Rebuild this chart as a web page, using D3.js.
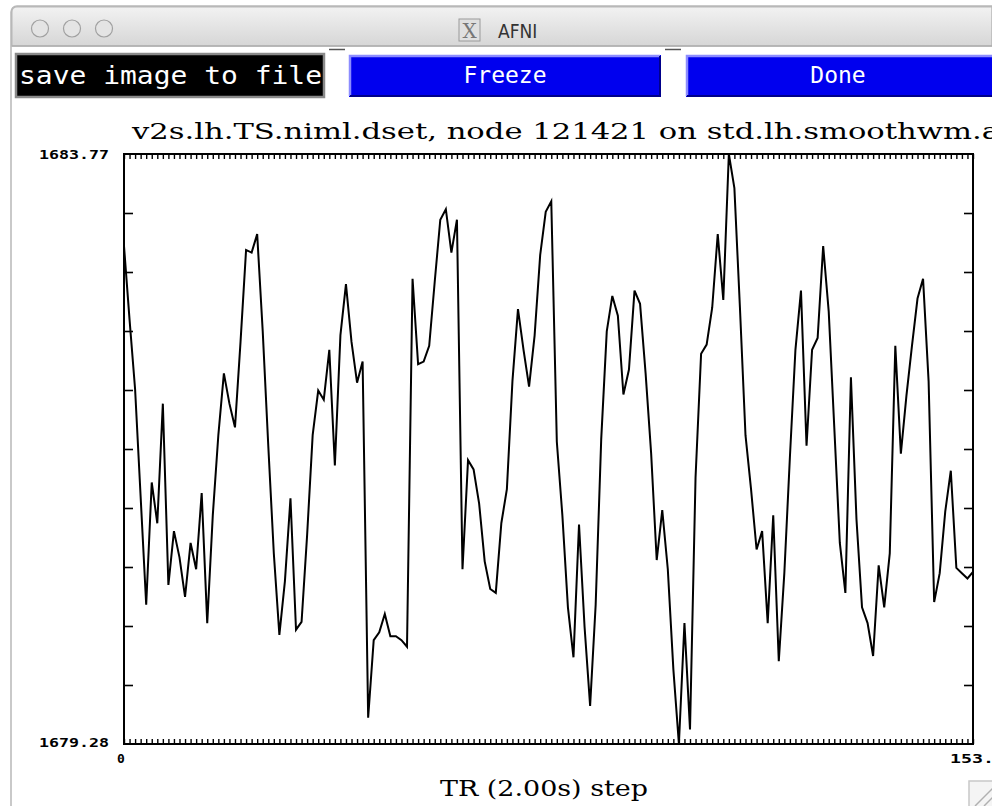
<!DOCTYPE html>
<html>
<head>
<meta charset="utf-8">
<script src="https://cdn.jsdelivr.net/npm/d3@7"></script>
<style>
  html, body { margin: 0; padding: 0; background: #ffffff; }
  svg { display: block; }
</style>
</head>
<body>
<svg id="chart" width="992" height="806"></svg>
<script>
// ---- data ----
const windowTitle = "AFNI";
const buttonLabels = ["save image to file", "Freeze", "Done"];
const plotTitle = "v2s.lh.TS.niml.dset, node 121421 on std.lh.smoothwm.a";
const xAxisTitle = "TR (2.00s) step";
const yTickLabels = ["1683.77", "1679.28"];
const xTickLabels = ["0", "153."];
const yRange = [1679.28, 1683.77];
const xRange = [0, 153];

const values = [
  1683.07, 1682.51, 1681.98, 1681.16, 1680.34, 1681.27, 1680.96, 1681.87, 1680.49, 1680.90,
  1680.70, 1680.40, 1680.81, 1680.61, 1681.19, 1680.20, 1681.02, 1681.63, 1682.10, 1681.87,
  1681.69, 1682.34, 1683.04, 1683.02, 1683.16, 1682.42, 1681.55, 1680.73, 1680.11, 1680.52,
  1681.15, 1680.15, 1680.21, 1680.87, 1681.63, 1681.97, 1681.90, 1682.28, 1681.40, 1682.39,
  1682.78, 1682.34, 1682.03, 1682.19, 1679.48, 1680.07, 1680.13, 1680.27, 1680.10, 1680.10,
  1680.07, 1680.02, 1682.82, 1682.17, 1682.19, 1682.31, 1682.80, 1683.27, 1683.35, 1683.02,
  1683.27, 1680.61, 1681.44, 1681.37, 1681.11, 1680.67, 1680.46, 1680.43, 1680.96, 1681.22,
  1682.04, 1682.59, 1682.28, 1682.00, 1682.39, 1683.00, 1683.33, 1683.41, 1681.58, 1681.02,
  1680.32, 1679.94, 1680.95, 1680.17, 1679.57, 1680.34, 1681.60, 1682.42, 1682.69, 1682.54,
  1681.94, 1682.13, 1682.73, 1682.63, 1682.10, 1681.49, 1680.68, 1681.06, 1680.61, 1679.85,
  1679.28, 1680.20, 1679.39, 1681.31, 1682.25, 1682.32, 1682.60, 1683.16, 1682.66, 1683.77,
  1683.51, 1682.60, 1681.63, 1681.22, 1680.76, 1680.90, 1680.20, 1681.02, 1679.91, 1680.58,
  1681.46, 1682.28, 1682.73, 1681.55, 1682.28, 1682.37, 1683.07, 1682.57, 1681.69, 1680.81,
  1680.43, 1682.07, 1680.99, 1680.32, 1680.20, 1679.95, 1680.64, 1680.32, 1680.73, 1682.31,
  1681.49, 1681.93, 1682.31, 1682.67, 1682.82, 1682.04, 1680.36, 1680.58, 1681.05, 1681.36,
  1680.62, 1680.58, 1680.54, 1680.59
];

// ---- drawing ----
const svg = d3.select("#chart");

// window chrome
const defs = svg.append("defs");
const grad = defs.append("linearGradient").attr("id", "tbar").attr("x1", 0).attr("y1", 0).attr("x2", 0).attr("y2", 1);
grad.append("stop").attr("offset", "0%").attr("stop-color", "#f2f2f2");
grad.append("stop").attr("offset", "100%").attr("stop-color", "#d6d6d6");

svg.append("rect").attr("x", 11).attr("y", 6).attr("width", 990).attr("height", 820)
  .attr("rx", 6).attr("fill", "#ffffff").attr("stroke", "#b8b8b8").attr("stroke-width", 1.5);
svg.append("path")
  .attr("d", "M11.75,46 L11.75,12 Q11.75,6.75 17,6.75 L992,6.75 L992,46 Z")
  .attr("fill", "url(#tbar)").attr("stroke", "#b8b8b8").attr("stroke-width", 1.5);
svg.append("line").attr("x1", 12).attr("x2", 992).attr("y1", 46).attr("y2", 46)
  .attr("stroke", "#a8a8a8").attr("stroke-width", 1);

[40, 72, 104].forEach(cx => {
  svg.append("circle").attr("cx", cx).attr("cy", 28.5).attr("r", 8.5)
    .attr("fill", "#e4e4e4").attr("stroke", "#a0a0a0").attr("stroke-width", 1.2);
});
// X icon
svg.append("rect").attr("x", 459).attr("y", 19).attr("width", 21).attr("height", 22)
  .attr("fill", "#e0e0e0").attr("stroke", "#9a9a9a").attr("stroke-width", 1);
svg.append("text").attr("x", 469.5).attr("y", 38).attr("text-anchor", "middle")
  .attr("font-family", "DejaVu Serif").attr("font-size", 20).attr("fill", "#777")
  .text("X");
svg.append("text").attr("x", 498).attr("y", 38)
  .attr("font-family", "DejaVu Sans Condensed, DejaVu Sans").attr("font-size", 19).attr("fill", "#333")
  .text(windowTitle);

// button row
svg.append("rect").attr("x", 13).attr("y", 47).attr("width", 979).attr("height", 55).attr("fill", "#ffffff");
svg.append("line").attr("x1", 329).attr("x2", 345).attr("y1", 49.5).attr("y2", 49.5).attr("stroke", "#555").attr("stroke-width", 1.5);
svg.append("line").attr("x1", 665).attr("x2", 681).attr("y1", 49.5).attr("y2", 49.5).attr("stroke", "#555").attr("stroke-width", 1.5);

svg.append("rect").attr("x", 16).attr("y", 54).attr("width", 308).attr("height", 43)
  .attr("fill", "#000").attr("stroke", "#8a8a8a").attr("stroke-width", 2.5);
svg.append("text").attr("x", 19).attr("y", 84)
  .attr("font-family", "DejaVu Sans Mono").attr("font-size", 24).attr("fill", "#fff")
  .attr("textLength", 303).attr("lengthAdjust", "spacingAndGlyphs")
  .text(buttonLabels[0]);

const blueBtns = [{x: 349, w: 312, label: buttonLabels[1]}, {x: 686, w: 312, label: buttonLabels[2]}];
blueBtns.forEach(b => {
  svg.append("rect").attr("x", b.x).attr("y", 55).attr("width", b.w).attr("height", 42).attr("fill", "#0000ee");
  svg.append("path").attr("d", `M${b.x+1},${96} L${b.x+1},${56} L${b.x+b.w-1},${56}`)
    .attr("fill", "none").attr("stroke", "#8c8cff").attr("stroke-width", 2.5);
  svg.append("path").attr("d", `M${b.x+1},${96} L${b.x+b.w-1},${96} L${b.x+b.w-1},${56}`)
    .attr("fill", "none").attr("stroke", "#00008a").attr("stroke-width", 2);
  svg.append("text").attr("x", b.x + b.w / 2 - (b.label === "Done" ? 4 : 0)).attr("y", 83)
    .attr("text-anchor", "middle")
    .attr("font-family", "DejaVu Sans Mono").attr("font-size", 23).attr("fill", "#fff")
    .text(b.label);
});

// ---- plot ----
const x = d3.scaleLinear().domain(xRange).range([124, 973]);
const y = d3.scaleLinear().domain(yRange).range([744, 154]);

const font = "DejaVu Serif, Liberation Serif, serif";

svg.append("text").attr("x", 132).attr("y", 139)
  .attr("font-family", font).attr("font-size", 23).attr("fill", "#000")
  .attr("textLength", 868).attr("lengthAdjust", "spacingAndGlyphs")
  .text(plotTitle);

// ticks
const xt = d3.range(xRange[0], xRange[1] + 1);
svg.append("g").attr("transform", `translate(0,${y(yRange[0])})`)
  .call(d3.axisBottom(x).tickValues(xt).tickSize(-5).tickSizeOuter(0).tickFormat(""))
  .call(g => g.select(".domain").remove())
  .call(g => g.selectAll("line").attr("stroke", "#000").attr("stroke-width", 1.4));
svg.append("g").attr("transform", `translate(0,${y(yRange[1])})`)
  .call(d3.axisTop(x).tickValues(xt).tickSize(-5).tickSizeOuter(0).tickFormat(""))
  .call(g => g.select(".domain").remove())
  .call(g => g.selectAll("line").attr("stroke", "#000").attr("stroke-width", 1.4));

const yt = d3.range(1, 10).map(k => yRange[0] + k * (yRange[1] - yRange[0]) / 10);
svg.append("g").attr("transform", `translate(${x(xRange[0])},0)`)
  .call(d3.axisLeft(y).tickValues(yt).tickSize(-9).tickSizeOuter(0).tickFormat(""))
  .call(g => g.select(".domain").remove())
  .call(g => g.selectAll("line").attr("stroke", "#000").attr("stroke-width", 1.6));
svg.append("g").attr("transform", `translate(${x(xRange[1])},0)`)
  .call(d3.axisRight(y).tickValues(yt).tickSize(-9).tickSizeOuter(0).tickFormat(""))
  .call(g => g.select(".domain").remove())
  .call(g => g.selectAll("line").attr("stroke", "#000").attr("stroke-width", 1.6));

// data line
const line = d3.line().x((d, i) => x(i)).y(d => y(d));
svg.append("path").datum(values)
  .attr("d", line).attr("fill", "none").attr("stroke", "#000")
  .attr("stroke-width", 2).attr("stroke-linejoin", "miter");

// frame
svg.append("rect")
  .attr("x", x(xRange[0])).attr("y", y(yRange[1]))
  .attr("width", x(xRange[1]) - x(xRange[0])).attr("height", y(yRange[0]) - y(yRange[1]))
  .attr("fill", "none").attr("stroke", "#000").attr("stroke-width", 2);

// axis labels
const lblFont = "DejaVu Sans Mono, monospace";
svg.append("text").attr("x", 109).attr("y", y(yRange[1]) + 5).attr("text-anchor", "end")
  .attr("font-family", lblFont).attr("font-weight", "bold").attr("font-size", 12)
  .attr("textLength", 70).attr("lengthAdjust", "spacingAndGlyphs").text(yTickLabels[0]);
svg.append("text").attr("x", 109).attr("y", y(yRange[0]) + 3).attr("text-anchor", "end")
  .attr("font-family", lblFont).attr("font-weight", "bold").attr("font-size", 13)
  .attr("textLength", 70).attr("lengthAdjust", "spacingAndGlyphs").text(yTickLabels[1]);
svg.append("text").attr("x", x(xRange[0]) - 3).attr("y", 763).attr("text-anchor", "middle")
  .attr("font-family", lblFont).attr("font-weight", "bold").attr("font-size", 13).text(xTickLabels[0]);
svg.append("text").attr("x", 950).attr("y", 763)
  .attr("font-family", lblFont).attr("font-weight", "bold").attr("font-size", 13)
  .attr("textLength", 44).attr("lengthAdjust", "spacingAndGlyphs").text(xTickLabels[1]);

svg.append("text").attr("x", 544).attr("y", 796).attr("text-anchor", "middle")
  .attr("font-family", font).attr("font-size", 22)
  .attr("textLength", 208).attr("lengthAdjust", "spacingAndGlyphs").text(xAxisTitle);

// resize grip
svg.append("rect").attr("x", 969).attr("y", 781).attr("width", 26).attr("height", 26)
  .attr("fill", "#f4f4f4").attr("stroke", "#c8c8c8").attr("stroke-width", 1.5);
[[975, 806, 994, 787], [984, 806, 994, 796]].forEach(c => {
  svg.append("line").attr("x1", c[0]).attr("y1", c[1]).attr("x2", c[2]).attr("y2", c[3])
    .attr("stroke", "#b0b0b0").attr("stroke-width", 1.5);
});
</script>
</body>
</html>
